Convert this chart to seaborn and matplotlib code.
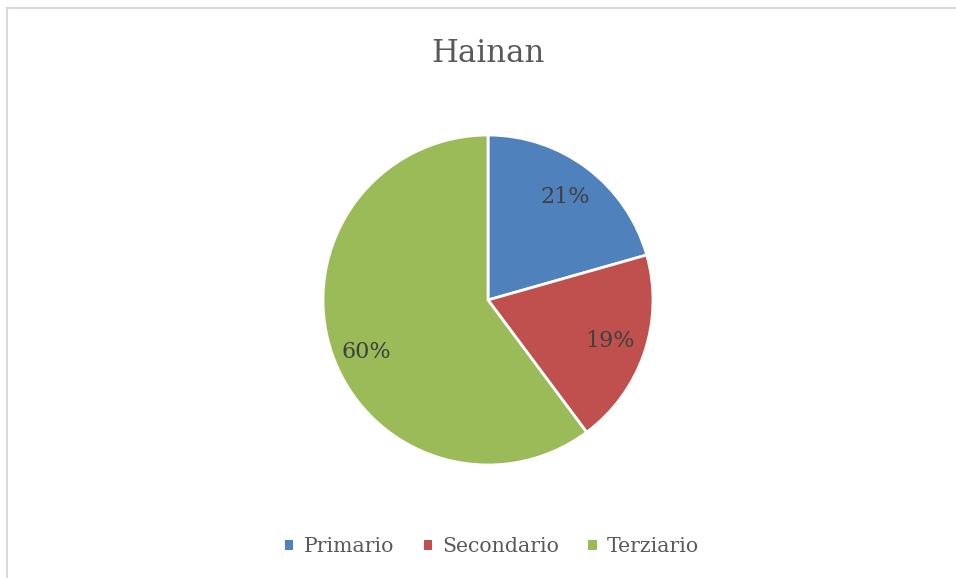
import numpy as np
import seaborn as sns
from matplotlib import pyplot as plt
from matplotlib.patches import Patch
from matplotlib.lines import Line2D

sectors = ['Primario', 'Secondario', 'Terziario']
shares = [20.6, 19.2, 60.2]
colors = ['#4f81bd', '#c0504d', '#9bbb59']

sns.set_theme(style='white')
plt.rcParams['font.family'] = ['DejaVu Serif']

W, H = 956, 578
fig = plt.figure(figsize=(W / 100, H / 100), dpi=100)

# pie centre and radius in pixels
cx, cy, r = 488, 300, 165
lim = 1.1
ax = fig.add_axes([(cx - r * lim) / W, (H - cy - r * lim) / H, 2 * r * lim / W, 2 * r * lim / H])
wedges, texts, autotexts = ax.pie(shares, colors=colors, startangle=90, counterclock=False,
                                  autopct='%1.0f%%', pctdistance=0.78,
                                  wedgeprops=dict(edgecolor='white', linewidth=2),
                                  textprops=dict(color='#404040', fontsize=16))
# excel puts the big slice label a bit lower
x, y = autotexts[2].get_position()
autotexts[2].set_position((x, y - 0.07))
ax.set_xlim(-lim, lim)
ax.set_ylim(-lim, lim)
ax.set_aspect('equal')
ax.axis('off')

fig.text(cx / W, 1 - 53 / H, 'Hainan', ha='center', va='center', fontsize=22.2, color='#595959')

handles = [Patch(facecolor=c, edgecolor='none') for c in colors]
fig.legend(handles, sectors, loc='center', bbox_to_anchor=(492 / W, 1 - 547 / H), ncol=3,
           frameon=False, fontsize=14.7, handlelength=0.4, handleheight=0.4, handletextpad=0.5,
           columnspacing=1.45, labelcolor='#595959')

# chart border (only top and left visible)
bc = '#d9d9d9'
fig.add_artist(Line2D([7 / W, 1], [1 - 8 / H, 1 - 8 / H], color=bc, lw=1.5))
fig.add_artist(Line2D([7 / W, 7 / W], [0, 1 - 8 / H], color=bc, lw=1.5))

fig.savefig('out.png', dpi=100)
